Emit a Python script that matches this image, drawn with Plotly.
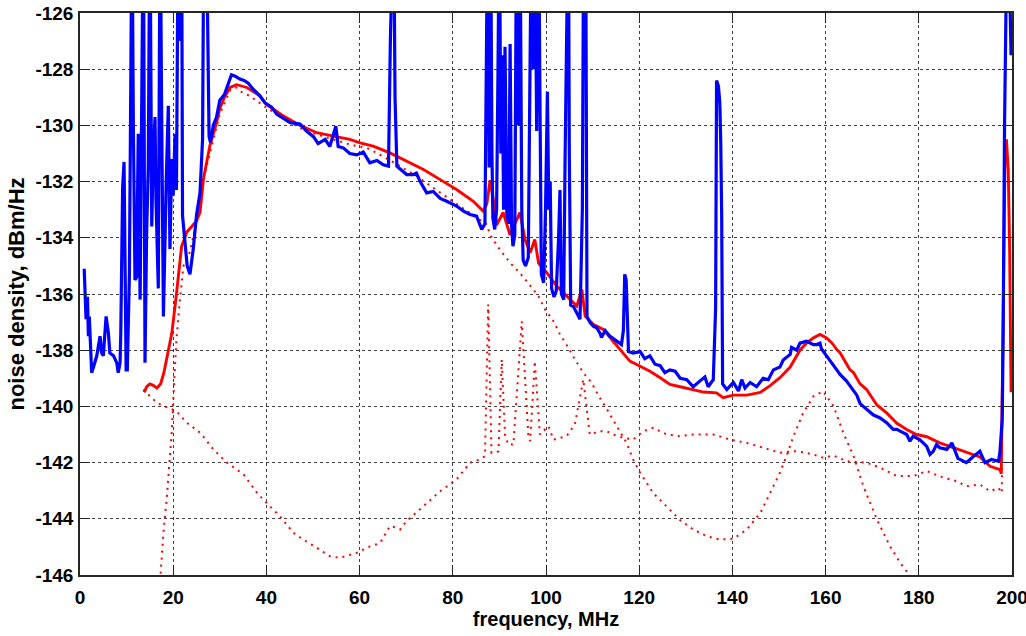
import plotly.graph_objects as go

# ---------------- data ----------------
# measured noise density (blue)
blue_f = [0.9, 1.1, 1.3, 1.6, 1.8, 2.0, 2.3, 2.5, 2.9, 3.6, 4.3, 4.65, 5.0, 5.6, 6.1, 6.4, 7.2, 7.9, 8.2, 8.6,
          8.75, 8.95, 9.15, 9.45, 9.65, 9.9, 10.15, 10.6, 10.9, 11.15, 11.45, 11.8, 12.15, 12.5, 12.9, 13.2, 13.6,
          13.95, 14.3, 14.65, 15.0, 15.4, 15.7, 16.1, 16.3, 16.8, 17.2, 17.5, 17.9, 18.5, 18.95, 19.3, 19.7, 20.0,
          20.4, 20.7, 21.1, 21.4, 21.8, 22.0, 22.5, 23.0, 23.6, 24.3, 25.0, 25.75, 26.3, 26.6, 27.1, 27.4, 27.7,
          28.0, 28.3, 28.6, 29.3, 30.0, 31.0, 32.2, 32.5, 33.3, 34.3, 35.2, 36.1, 37.2, 38.6, 39.7, 41.1, 42.2,
          43.6, 45.1, 47.2, 48.6, 50.1, 51.1, 52.6, 53.6, 54.9, 55.4, 56.5, 57.9, 59.4, 60.8, 62.2, 63.7, 65.1,
          66.2, 66.6, 66.9, 67.3, 67.6, 68.0, 68.7, 70.1, 71.5, 72.2, 73.0, 74.4, 75.8, 77.3, 78.7, 80.8, 82.3,
          83.7, 85.1, 86.2, 86.9, 87.2, 87.5, 87.8, 88.1, 88.4, 88.6, 89.0, 89.4, 89.7, 90.0, 90.3, 90.6, 90.9,
          91.2, 91.6, 92.0, 92.3, 92.6, 92.9, 93.3, 93.7, 94.1, 94.4, 94.8, 95.1, 95.6, 96.2, 96.6, 96.9, 97.3,
          97.6, 98.0, 98.4, 98.7, 99.0, 99.5, 99.9, 100.3, 100.6, 100.9, 101.2, 101.7, 102.2, 102.7, 103.0, 103.3,
          103.8, 104.1, 104.4, 104.8, 105.0, 105.3, 105.9, 106.6, 107.3, 107.8, 108.1, 108.5, 108.8, 109.4, 110.2,
          110.9, 111.6, 111.9, 112.7, 113.7, 115.2, 116.2, 116.6, 116.9, 117.2, 117.5, 117.7, 118.7, 120.2, 121.2,
          122.3, 123.4, 124.5, 125.5, 126.6, 127.7, 128.8, 130.2, 131.6, 133.0, 134.1, 134.8, 135.9, 136.4, 136.6,
          137.0, 137.3, 137.5, 137.7, 137.9, 138.8, 140.2, 141.3, 142.0, 142.7, 143.8, 145.2, 146.6, 147.7, 148.8,
          150.2, 150.9, 152.4, 152.7, 153.8, 154.5, 155.9, 157.4, 158.1, 158.8, 159.1, 160.2, 161.7, 162.4, 163.1,
          164.5, 165.6, 166.7, 167.4, 168.8, 170.2, 171.7, 173.1, 174.5, 175.3, 176.0, 177.4, 178.1, 178.8, 180.3,
          181.7, 182.4, 183.1, 183.8, 184.5, 186.0, 187.1, 188.4, 190.2, 191.6, 193.1, 194.2, 195.6, 197.1, 197.4,
          197.9, 198.1, 198.4, 198.6, 199.0, 199.5, 199.8]
blue_db = [-135.1, -135.8, -136.9, -136.1, -137.5, -136.8, -138.1, -138.8, -138.6, -138.2, -137.5, -138.1, -138.2,
           -136.8, -137.4, -138.1, -138.2, -138.45, -138.8, -138.45, -137.4, -134.1, -132.2, -131.3, -133.8, -138.7,
           -138.7, -135.3, -128.5, -122.0, -130.0, -135.5, -135.4, -130.3, -136.2, -130.9, -122.0, -138.45, -133.8,
           -131.5, -122.0, -133.6, -131.1, -129.7, -132.6, -135.8, -122.0, -129.1, -136.8, -132.0, -129.3, -134.4,
           -131.2, -132.5, -130.3, -132.3, -122.0, -127.0, -122.0, -133.2, -134.1, -135.0, -135.3, -134.4, -133.2,
           -132.4, -130.5, -122.0, -122.5, -127.5, -130.4, -130.6, -130.3, -130.0, -129.7, -129.1, -128.9, -128.4,
           -128.2, -128.25, -128.35, -128.4, -128.5, -128.72, -128.95, -129.2, -129.35, -129.6, -129.73, -129.9,
           -129.95, -130.2, -130.4, -130.65, -130.5, -130.75, -130.03, -130.75, -130.8, -131.0, -131.05, -130.95,
           -131.33, -131.25, -131.4, -131.45, -127.0, -122.0, -122.0, -129.0, -131.45, -131.55, -131.75, -131.75,
           -131.7, -132.0, -132.4, -132.35, -132.6, -132.7, -132.87, -133.05, -133.17, -133.23, -133.7, -133.5,
           -129.0, -122.0, -131.5, -122.0, -131.0, -133.3, -133.7, -133.0, -128.0, -122.0, -131.0, -127.5, -133.0,
           -127.2, -133.2, -133.5, -127.1, -133.5, -134.3, -133.9, -122.0, -130.0, -122.0, -133.0, -134.8, -135.0,
           -134.7, -130.0, -122.0, -128.0, -122.0, -130.2, -122.0, -129.0, -135.3, -135.6, -133.0, -128.8, -133.0,
           -132.0, -135.8, -136.1, -135.9, -134.0, -132.3, -136.0, -136.2, -131.1, -122.0, -122.0, -131.0, -136.4,
           -136.45, -136.7, -136.9, -133.0, -122.0, -122.0, -136.8, -137.0, -137.15, -137.2, -137.4, -137.55, -137.3,
           -137.5, -137.7, -137.8, -137.3, -135.3, -135.5, -137.5, -138.05, -138.1, -138.05, -138.3, -138.2, -138.5,
           -138.55, -138.8, -138.7, -138.75, -139.0, -139.05, -139.3, -139.1, -138.95, -139.3, -139.05, -136.5,
           -128.4, -128.6, -129.2, -130.6, -133.2, -139.2, -139.4, -139.15, -139.45, -139.05, -139.35, -139.15,
           -139.3, -139.0, -139.05, -138.7, -138.6, -138.35, -138.15, -137.9, -138.0, -137.75, -137.68, -137.8,
           -137.8, -137.75, -137.95, -138.2, -138.57, -138.7, -138.86, -139.1, -139.35, -139.6, -139.9, -140.11,
           -140.3, -140.41, -140.58, -140.82, -140.82, -140.88, -141.0, -141.24, -141.06, -141.2, -141.42, -141.71,
           -141.6, -141.36, -141.47, -141.53, -141.3, -141.85, -142.0, -141.8, -141.6, -142.0, -141.89, -141.95,
           -141.65, -140.47, -137.5, -130.0, -122.0, -122.0, -125.0, -127.5]

# total model (red solid)
red_f = [13.8, 14.3, 15.0, 15.7, 16.5, 17.3, 18.0, 18.6, 19.7, 20.7, 21.8, 22.5, 22.9, 25.0, 25.75, 26.5, 27.2,
         27.9, 28.6, 29.3, 30.0, 31.0, 32.2, 33.6, 35.8, 38.6, 40.0, 43.6, 47.2, 50.8, 54.4, 57.9, 60.1, 62.9,
         66.5, 70.1, 73.7, 77.3, 80.8, 84.4, 86.5, 87.3, 88.0, 88.7, 89.4, 90.8, 92.3, 94.4, 95.5, 96.6, 97.6,
         98.4, 100.2, 102.3, 104.4, 106.6, 107.7, 108.4, 110.2, 112.3, 114.4, 116.6, 118.0, 120.2, 122.3, 124.5,
         126.6, 128.8, 131.6, 133.8, 136.6, 138.0, 140.2, 143.1, 146.0, 148.1, 150.2, 152.4, 154.5, 155.9, 157.4,
         158.8, 160.2, 161.4, 162.4, 163.1, 165.2, 166.0, 167.4, 168.8, 171.0, 173.1, 175.3, 177.4, 179.5, 181.7,
         184.5, 187.4, 190.2, 193.1, 195.3, 197.4, 197.7, 197.9, 198.2, 198.5, 198.8, 199.2, 199.5, 199.8]
red_db = [-139.5, -139.3, -139.2, -139.25, -139.35, -139.2, -138.8, -138.3, -137.4, -136.0, -134.3, -134.0,
          -133.8, -133.4, -133.1, -131.9, -131.3, -130.7, -130.3, -129.9, -129.4, -129.0, -128.65, -128.55,
          -128.65, -128.95, -129.25, -129.66, -130.0, -130.26, -130.38, -130.5, -130.62, -130.74, -130.98, -131.27,
          -131.57, -131.93, -132.28, -132.7, -133.05, -132.8, -131.95, -132.64, -133.55, -133.1, -133.9, -133.1,
          -134.06, -134.53, -134.06, -134.9, -135.25, -135.72, -136.08, -136.43, -135.84, -136.79, -137.09,
          -137.26, -137.68, -138.09, -138.39, -138.57, -138.75, -138.98, -139.22, -139.3, -139.4, -139.49, -139.52,
          -139.69, -139.6, -139.6, -139.5, -139.26, -138.98, -138.6, -138.0, -137.75, -137.56, -137.44, -137.56,
          -137.75, -137.98, -138.09, -138.69, -138.8, -139.2, -139.4, -139.95, -140.23, -140.6, -140.82, -141.0,
          -141.08, -141.3, -141.47, -141.65, -141.8, -142.13, -142.25, -142.4, -139.0, -134.0, -131.2, -130.5,
          -131.6, -134.5, -139.5]

# sky / broadcast component (red dotted)
sky_f = [13.6, 15.7, 17.2, 20.7, 22.9, 25.8, 28.6, 31.5, 35.1, 38.0, 40.0, 42.9, 45.8, 47.9, 50.8, 53.6, 55.8,
         59.4, 62.0, 64.4, 66.5, 67.5, 68.7, 70.1, 73.7, 77.3, 80.8, 83.7, 85.8, 86.9, 87.6, 88.3, 89.8, 90.5,
         91.2, 91.9, 93.0, 94.8, 96.2, 96.6, 97.6, 98.7, 100.5, 101.6, 104.4, 106.2, 108.0, 109.4, 111.6, 113.0,
         114.4, 116.6, 118.7, 120.9, 123.0, 125.9, 128.8, 131.6, 135.9, 139.5, 143.1, 146.6, 150.2, 153.8, 157.4,
         159.5, 161.7, 164.5, 168.8, 171.7, 175.3, 178.8, 181.7, 185.3, 188.1, 190.2, 193.1, 195.3, 197.1, 197.8,
         197.9]
sky_db = [-139.4, -139.75, -139.93, -140.17, -140.58, -140.94, -141.53, -142.0, -142.42, -143.08, -143.43, -143.91,
          -144.5, -144.74, -145.03, -145.33, -145.39, -145.21, -145.0, -144.86, -144.26, -144.3, -144.38, -144.08,
          -143.55, -143.02, -142.6, -142.0, -141.89, -141.77, -136.37, -141.65, -141.6, -138.33, -141.0, -141.36,
          -141.36, -136.97, -141.0, -141.24, -138.39, -141.0, -140.7, -141.18, -141.06, -140.64, -139.04, -141.0,
          -140.88, -140.88, -141.0, -141.12, -141.18, -140.88, -140.76, -141.0, -141.06, -141.0, -141.0, -141.18,
          -141.3, -141.47, -141.65, -141.59, -141.71, -141.83, -141.75, -141.95, -142.0, -142.18, -142.48, -142.48,
          -142.3, -142.54, -142.66, -142.84, -142.78, -143.02, -142.9, -143.08, -141.8]

# receiver / antenna component (red dotted)
rx_f = [17.2, 17.9, 18.6, 19.3, 19.7, 20.0, 20.4, 20.7, 21.5, 22.2, 23.6, 25.4, 26.8, 28.6, 30.0, 32.2, 33.5,
        34.3, 36.5, 40.0, 43.6, 47.2, 50.8, 54.4, 57.9, 61.5, 63.7, 68.7, 72.2, 75.8, 79.4, 83.0, 87.3, 88.0,
        90.1, 92.3, 94.4, 96.6, 98.4, 99.8, 101.6, 103.0, 104.8, 106.2, 108.0, 109.8, 111.2, 113.0, 115.2, 117.3,
        118.7, 120.2, 123.0, 125.9, 128.8, 131.6, 134.5, 137.3, 140.2, 143.1, 146.0, 148.1, 150.2, 151.6, 153.1,
        155.2, 157.4, 159.5, 161.7, 163.8, 166.0, 168.1, 171.0, 173.8, 176.0, 178.1, 179.0]
rx_db = [-146.2, -144.5, -143.3, -141.9, -140.9, -139.8, -138.6, -137.6, -136.1, -135.0, -134.5, -133.1, -131.7,
         -130.5, -129.6, -128.75, -128.65, -128.78, -128.96, -129.37, -129.73, -130.09, -130.32, -130.5, -130.68,
         -130.8, -130.98, -131.45, -131.8, -132.22, -132.64, -133.05, -133.53, -133.9, -134.42, -134.89, -135.25,
         -135.7, -136.08, -136.55, -136.97, -137.44, -137.91, -138.33, -138.8, -139.16, -139.6, -140.08, -140.7,
         -141.3, -141.89, -142.36, -143.08, -143.55, -144.05, -144.38, -144.62, -144.74, -144.71, -144.38, -143.79,
         -143.08, -142.36, -141.77, -141.06, -140.23, -139.64, -139.46, -139.99, -140.94, -141.77, -142.84, -144.02,
         -144.97, -145.57, -146.02, -146.5]

x_ticks = list(range(0, 201, 20))
y_ticks = list(range(-146, -125, 2))

# ---------------- figure ----------------
FONT = "Liberation Sans"
fig = go.Figure()
dot_line = dict(color="#ff0000", width=2, dash="2px,5px")
fig.add_trace(go.Scatter(x=sky_f, y=sky_db, mode="lines", line=dot_line, hoverinfo="skip"))
fig.add_trace(go.Scatter(x=rx_f, y=rx_db, mode="lines", line=dot_line, hoverinfo="skip"))
fig.add_trace(go.Scatter(x=red_f, y=red_db, mode="lines", line=dict(color="#ff0000", width=2.9)))
fig.add_trace(go.Scatter(x=blue_f, y=blue_db, mode="lines", line=dict(color="#0000ff", width=3.2)))

axis_common = dict(
    ticks="inside", ticklen=10, tickwidth=1, tickcolor="#262626",
    showline=True, linecolor="#262626", linewidth=1.5, mirror="allticks",
    showgrid=True, gridcolor="#404040", gridwidth=1, griddash="dot",
    zeroline=False, ticklabeloverflow="allow",
    tickfont=dict(family=FONT, size=19, color="black", weight="bold"),
)
fig.update_xaxes(range=[0, 200], tickvals=x_ticks, ticktext=[str(v) for v in x_ticks],
                 ticklabelstandoff=4,
                 title=dict(text="frequency, MHz", font=dict(family=FONT, size=20, color="black", weight="bold"),
                            standoff=5),
                 **axis_common)
fig.update_yaxes(range=[-146, -126], tickvals=y_ticks, ticktext=[str(v) for v in y_ticks],
                 ticklabelstandoff=1,
                 title=dict(text="noise density, dBm/Hz", font=dict(family=FONT, size=22, color="black", weight="bold"),
                            standoff=5),
                 **axis_common)
fig.update_layout(width=1026, height=636, margin=dict(l=80, r=14, t=13, b=61, autoexpand=False),
                  plot_bgcolor="white", paper_bgcolor="white", showlegend=False)
fig.write_html("out.html")
